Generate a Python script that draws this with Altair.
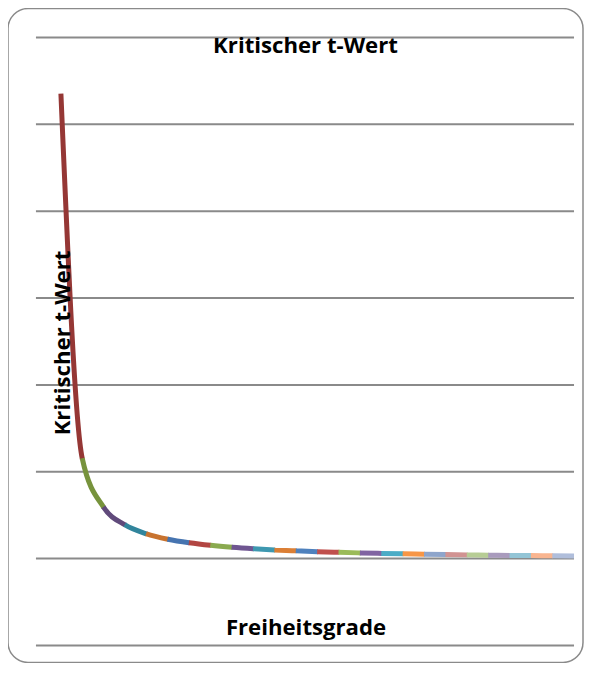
import altair as alt
import pandas as pd
import numpy as np

# Degrees of freedom and critical t-values (two-sided, alpha = 0.05)
df_values = list(range(1, 26))
t_values = [12.706, 4.303, 3.182, 2.776, 2.571, 2.447, 2.365, 2.306, 2.262, 2.228,
            2.201, 2.179, 2.160, 2.145, 2.131, 2.120, 2.110, 2.101, 2.093, 2.086,
            2.080, 2.074, 2.069, 2.064, 2.060]
segment_colors = ["#953735", "#77933C", "#604A7B", "#31859C", "#C8732F", "#4674B0",
                  "#B24542", "#8AAA4F", "#6F5691", "#3E98B0", "#DB7F35", "#4F81BD",
                  "#C0504D", "#9BBB59", "#8064A2", "#4BACC6", "#F79646", "#8EA5CB",
                  "#D19392", "#B7CD95", "#A99BBD", "#93C5D6", "#F9B590", "#B0BEDB"]
grid_values = [0, 2, 4, 6, 8, 10, 12, 14]
chart_title = "Kritischer t-Wert"
y_title = "Kritischer t-Wert"
x_title = "Freiheitsgrade"

W, H = 576, 655
XD = [1 - 53 / (514 / 24), 1 + (W - 53) / (514 / 24)]
YD = [(638 - H) / 43.5, 638 / 43.5]

# --- dash patterns so that each colour covers one interval of the smoothed curve ---
px = np.array([(d - XD[0]) / (XD[1] - XD[0]) * W for d in df_values])
py = np.array([(YD[1] - t) / (YD[1] - YD[0]) * H for t in t_values])
n = len(px)
s = np.diff(py) / np.diff(px)
h = np.diff(px)
tang = np.zeros(n)
for i in range(1, n - 1):
    p = (s[i - 1] * h[i] + s[i] * h[i - 1]) / (h[i - 1] + h[i])
    tang[i] = (np.sign(s[i - 1]) + np.sign(s[i])) * min(abs(s[i - 1]), abs(s[i]), 0.5 * abs(p))
tang[0] = (3 * s[0] - tang[1]) / 2
tang[-1] = (3 * s[-1] - tang[-2]) / 2
lengths = []
u = np.linspace(0, 1, 2001)[:, None]
for i in range(n - 1):
    dx = h[i] / 3
    P = np.array([[px[i], py[i]], [px[i] + dx, py[i] + dx * tang[i]],
                  [px[i + 1] - dx, py[i + 1] - dx * tang[i + 1]], [px[i + 1], py[i + 1]]])
    B = ((1 - u) ** 3) * P[0] + 3 * ((1 - u) ** 2) * u * P[1] + 3 * (1 - u) * u ** 2 * P[2] + u ** 3 * P[3]
    lengths.append(float(np.sum(np.sqrt(np.sum(np.diff(B, axis=0) ** 2, axis=1)))))
starts = np.concatenate([[0], np.cumsum(lengths)[:-1]])
dashes = []
for k in range(n - 1):
    if k == 0:
        dashes.append([lengths[0] + 0.4, 100000])
    else:
        dashes.append([0, float(starts[k]) - 0.4, lengths[k] + 0.8, 100000])

rows = []
for k in range(n - 1):
    for d, t in zip(df_values, t_values):
        rows.append({"df": d, "t": t, "seg": k})
seg_df = pd.DataFrame(rows)

xscale = alt.Scale(domain=XD, nice=False, zero=False)
yscale = alt.Scale(domain=YD, nice=False, zero=False)

grid = alt.Chart(pd.DataFrame({"g": grid_values})).mark_rule(
    color="#8a8a8a", strokeWidth=2
).encode(
    y=alt.Y("g:Q", scale=yscale, axis=None),
    x=alt.value(28), x2=alt.value(567)
)

line = alt.Chart(seg_df).mark_line(strokeWidth=5, strokeCap="butt", interpolate="monotone").encode(
    x=alt.X("df:Q", scale=xscale, axis=None),
    y=alt.Y("t:Q", scale=yscale, axis=None),
    color=alt.Color("seg:N", scale=alt.Scale(domain=list(range(n - 1)), range=segment_colors), legend=None),
    strokeDash=alt.StrokeDash("seg:N", scale=alt.Scale(domain=list(range(n - 1)), range=dashes), legend=None),
)

font = "Open Sans"
fs = 22.2
title_t = alt.Chart(pd.DataFrame({"s": [chart_title]})).mark_text(
    font=font, fontSize=fs, fontWeight="bold", color="#000000", baseline="alphabetic", align="center"
).encode(text="s:N", x=alt.value(298), y=alt.value(45))

xt = alt.Chart(pd.DataFrame({"s": [x_title]})).mark_text(
    font=font, fontSize=fs, fontWeight="bold", color="#000000", baseline="alphabetic", align="center"
).encode(text="s:N", x=alt.value(298.5), y=alt.value(628))

yt = alt.Chart(pd.DataFrame({"s": [y_title]})).mark_text(
    font=font, fontSize=fs, fontWeight="bold", color="#000000", baseline="alphabetic", align="center", angle=270
).encode(text="s:N", x=alt.value(62), y=alt.value(335))

chart = alt.layer(grid, line, title_t, xt, yt).properties(
    width=W, height=H, padding=0
).configure_view(
    stroke="#8a8a8a", strokeWidth=1.5, cornerRadius=20
)

chart.save("out.html", embed_options={"renderer": "svg", "actions": False})
